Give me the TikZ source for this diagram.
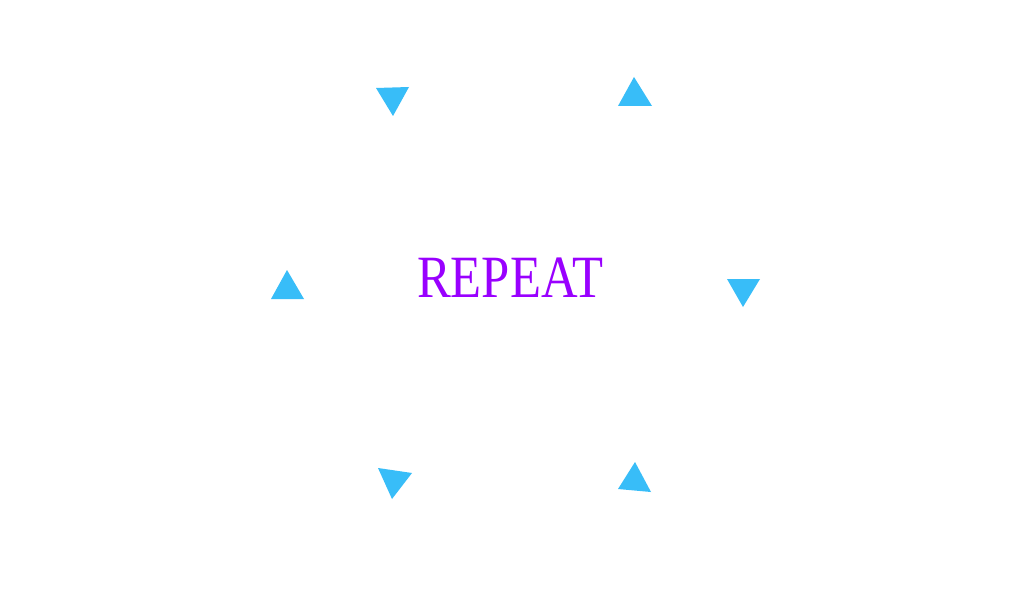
\documentclass[tikz,border=0pt]{standalone}
\usepackage{fontspec}
\setmainfont{Liberation Serif}
\definecolor{tri}{RGB}{56,189,248}
\definecolor{word}{RGB}{153,0,255}
\begin{document}
\begin{tikzpicture}[x=1pt,y=-1pt, tribox/.style={fill=tri,draw=none}]
\useasboundingbox (0,0) rectangle (1024,596);
\fill[white] (0,0) rectangle (1024,596);
\fill[tribox] (376,88) -- (409,87) -- (393,116) -- cycle;
\fill[tribox] (618,106) -- (652,106) -- (634,77) -- cycle;
\fill[tribox] (271,299) -- (304,299) -- (287,270) -- cycle;
\fill[tribox] (727,279) -- (760,279) -- (743,307) -- cycle;
\fill[tribox] (378,468) -- (412,473) -- (392,499) -- cycle;
\fill[tribox] (618,489) -- (651,492) -- (635,462) -- cycle;
\node[anchor=base, inner sep=0pt, text=word, font=\fontsize{60}{60}\selectfont, xscale=0.845] (title) at (510,297) {REPEAT};
\end{tikzpicture}
\end{document}
